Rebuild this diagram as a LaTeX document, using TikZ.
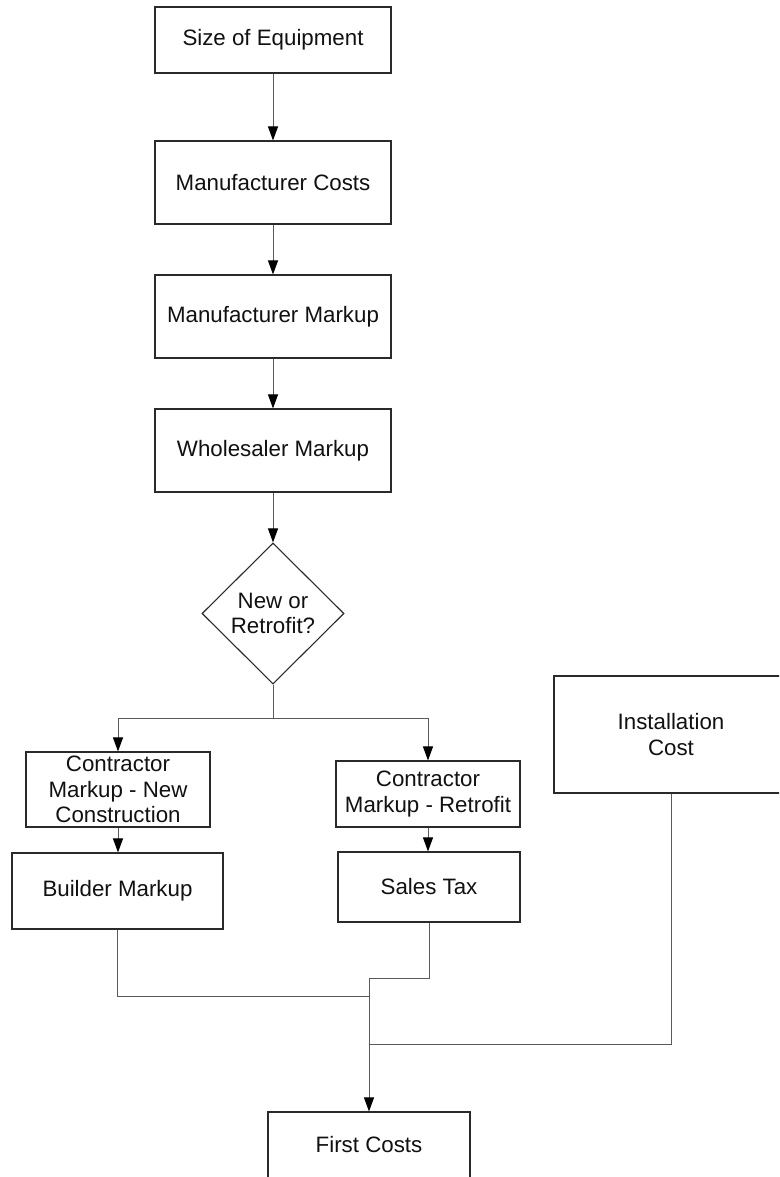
\documentclass[tikz,border=0pt]{standalone}
\usepackage{fontspec}
\setmainfont{Liberation Sans}
\usetikzlibrary{shapes.geometric,arrows.meta}

\definecolor{inkline}{HTML}{5A5A5A}
\definecolor{boxline}{HTML}{2A2A2A}
\definecolor{txt}{HTML}{111111}

\tikzset{
  box/.style={draw=boxline, line width=1.1pt, fill=white, inner sep=0pt,
    align=center, text=txt, font=\fontsize{22.3}{25.6}\selectfont},
  decision/.style={box, diamond, shape aspect=1},
  flow/.style={draw=inkline, line width=1pt},
  arrowflow/.style={flow, -{Triangle[length=14pt,width=10pt,color=black]}},
}

\begin{document}
\begin{tikzpicture}[x=1pt, y=-1pt]
  \useasboundingbox (0,0) rectangle (779,1177);
  \clip (0,0) rectangle (779,1177);

  % main chain
  \node[box, minimum width=236pt, minimum height=66pt] (size)  at (273,40)    {Size of Equipment};
  \node[box, minimum width=236pt, minimum height=83pt] (mcost) at (273,182.5) {Manufacturer Costs};
  \node[box, minimum width=236pt, minimum height=83pt] (mmark) at (273,316.5) {Manufacturer Markup};
  \node[box, minimum width=236pt, minimum height=83pt] (whole) at (273,450.5) {Wholesaler Markup};
  \node[decision, minimum width=142pt, minimum height=141pt] (dec) at (273,613.5) {New or\\Retrofit?};

  % branches
  \node[box, minimum width=184pt, minimum height=75pt] (cnew) at (118,789.5) {Contractor\\Markup - New\\Construction};
  \node[box, minimum width=184pt, minimum height=66pt] (cret) at (428,794)   {Contractor\\Markup - Retrofit};
  \node[box, minimum width=211pt, minimum height=76pt] (builder) at (117.5,891) {Builder Markup};
  \node[box, minimum width=182pt, minimum height=70pt] (sales)   at (429,887)   {Sales Tax};
  \node[box, minimum width=234pt, minimum height=117pt] (install) at (671,734.5) {Installation\\Cost};
  \node[box, minimum width=202pt, minimum height=66pt] (first)   at (369,1145)  {First Costs};

  % junction points
  \coordinate (split) at (273,718);
  \coordinate (joinS) at (369,978);

  % connectors
  \draw[arrowflow] (size) -- (mcost);
  \draw[arrowflow] (mcost) -- (mmark);
  \draw[arrowflow] (mmark) -- (whole);
  \draw[arrowflow] (whole) -- (dec.north);
  \draw[flow] (dec.south) -- (split);
  \draw[arrowflow] (split) -| (cnew.north);
  \draw[arrowflow] (split) -| (cret.north);
  \draw[arrowflow] (cnew) -- (cnew.south |- builder.north);
  \draw[arrowflow] (cret.south) -- (cret.south |- sales.north);
  \draw[flow] (builder.south) |- (369,996);
  \draw[flow] (install.south) |- (369,1044);
  \draw[flow] (sales.south) |- (joinS);
  \draw[arrowflow] (joinS) -- (first.north);
\end{tikzpicture}
\end{document}
